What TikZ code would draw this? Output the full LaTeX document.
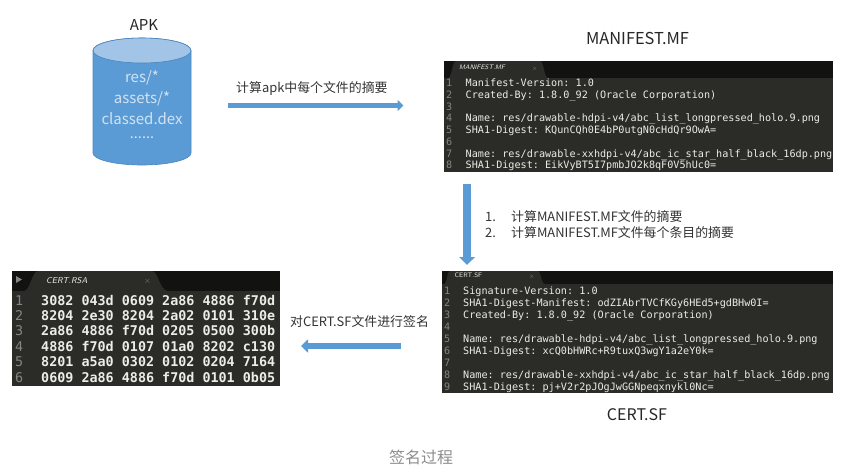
\documentclass[tikz,border=0pt]{standalone}
\usepackage{fontspec}
\setmainfont{Noto Sans CJK SC}
\setmonofont{DejaVu Sans Mono}
\usetikzlibrary{arrows.meta}
\definecolor{blueA}{HTML}{5B9BD5}
\definecolor{blueTop}{HTML}{A2C4E6}
\definecolor{blueEdge}{HTML}{4A85BB}
\definecolor{edBody}{HTML}{2B2C27}
\definecolor{edBar}{HTML}{121210}
\definecolor{edText}{HTML}{EDEDE8}
\definecolor{edNum}{HTML}{85867F}
\tikzset{
  x=1pt,y=-1pt,
  editor/.style={draw=none,fill=edBody,inner sep=0pt,anchor=north west},
  code/.style={font=\ttfamily\fontsize{10.15}{11}\selectfont,text=edText,anchor=base west,inner sep=0pt},
  rsacode/.style={font=\ttfamily\bfseries\fontsize{13.4}{14}\selectfont,text=edText,anchor=base west,inner sep=0pt},
  num/.style={font=\ttfamily\fontsize{10.15}{11}\selectfont,text=edNum,anchor=base west,inner sep=0pt},
  rsanum/.style={font=\ttfamily\fontsize{13.4}{14}\selectfont,text=edNum,anchor=base west,inner sep=0pt},
  tabtitle/.style={font=\sffamily\fontsize{6.5}{7}\selectfont,text=edText,anchor=base west,inner sep=0pt},
  caption/.style={font=\fontsize{16}{18}\selectfont,text=black!85,inner sep=0pt},
  note/.style={font=\fontsize{12.9}{14}\selectfont,text=black!80,inner sep=0pt,anchor=base west},
  inside/.style={font=\fontsize{15}{17}\selectfont,text=white!72!blueA,inner sep=0pt},
  flow/.style={draw=blueA,line width=#1},
}
\begin{document}
\begin{tikzpicture}
\useasboundingbox (0,0) rectangle (841,475);
% cylinder
\path[fill=blueA,draw=blueEdge,line width=0.6pt] (93,50.5) -- (93,153) arc[start angle=180,end angle=0,x radius=49,y radius=12] -- (191,50.5) arc[start angle=0,end angle=-180,x radius=49,y radius=12.5] -- cycle;
\path[fill=blueTop,draw=blueEdge,line width=0.6pt] (142,50.5) ellipse[x radius=49,y radius=12.5];
\node[caption,font=\fontsize{15}{17}\selectfont] (apk) at (144,25) {APK};
\node[inside] (res) at (142,78) {res/*};
\node[inside] (assets) at (142,98.5) {assets/*};
\node[inside] (dex) at (142,119) {classed.dex};
\node[inside,font=\fontsize{14.5}{15}\selectfont] (dots) at (142,138) {......};

% top arrow
\coordinate (a1s) at (228,105.5);
\coordinate (a1e) at (403.5,105.5);
\draw[flow=4.5pt,-{Triangle[length=6pt,width=11pt]}] (a1s) -- (a1e);
\node[note] (n1) at (236,92.5) {计算apk中每个文件的摘要};

% MANIFEST editor
\node[caption,font=\fontsize{16.4}{18}\selectfont] (mftitle) at (637.5,38) {MANIFEST.MF};
\node[editor,minimum width=389pt,minimum height=111pt] (mf) at (444,61) {};
\fill[edBar] (mf.north west) rectangle (833,78);
\fill[edBody] (444,78) -- (448,78) .. controls (452,78) and (452,61) .. (456,61) -- (540,61) .. controls (544,61) and (544,78) .. (548,78) -- cycle;
\node[tabtitle,font=\sffamily\itshape\fontsize{6.5}{7}\selectfont] (mftab) at (459,69) {MANIFEST.MF};
\node[tabtitle,text=edNum] (mfx) at (532,70) {×};
\foreach \i/\yy in {1/86,2/98,3/110,4/121.5,5/133.5,6/145,7/157,8/168.5}
  \node[num] (mfn\i) at (446,\yy) {\i};
\node[code] (mf1) at (465.5,86) {Manifest-Version: 1.0};
\node[code] (mf2) at (465.5,98) {Created-By: 1.8.0\_92 (Oracle Corporation)};
\node[code] (mf4) at (465.5,121.5) {Name: res/drawable-hdpi-v4/abc\_list\_longpressed\_holo.9.png};
\node[code] (mf5) at (465.5,133.5) {SHA1-Digest: KQunCQh0E4bP0utgN0cHdQr9OwA=};
\node[code] (mf7) at (465.5,157) {Name: res/drawable-xxhdpi-v4/abc\_ic\_star\_half\_black\_16dp.png};
\node[code] (mf8) at (465.5,168.5) {SHA1-Digest: EikVyBT5I7pmbJO2k8qF0V5hUc0=};

% down arrow
\coordinate (a2s) at (467,184);
\coordinate (a2e) at (467,265);
\draw[flow=7.5pt,-{Triangle[length=8pt,width=15.5pt]}] (a2s) -- (a2e);
\node[note] (l1n) at (485,221) {1.};
\node[note] (l1t) at (511,221) {计算MANIFEST.MF文件的摘要};
\node[note] (l2n) at (485,237) {2.};
\node[note] (l2t) at (511,237) {计算MANIFEST.MF文件每个条目的摘要};

% CERT.SF editor
\node[editor,minimum width=391pt,minimum height=122pt] (sf) at (442,271) {};
\fill[edBar] (sf.north west) rectangle (833,284);
\fill[edBody] (442,284) -- (444,284) .. controls (447,284) and (447,271) .. (450,271) -- (538,271) .. controls (541,271) and (541,284) .. (545,284) -- cycle;
\node[tabtitle] (sftab) at (454.5,277.5) {CERT.SF};
\node[tabtitle,text=edNum] (sfx) at (529,278) {×};
\foreach \i/\yy in {1/294.5,2/306.5,3/318.5,4/330.5,5/342.5,6/354.5,7/366.5,8/378.5,9/390}
  \node[num] (sfn\i) at (444,\yy) {\i};
\node[code] (sf1) at (463,294.5) {Signature-Version: 1.0};
\node[code] (sf2) at (463,306.5) {SHA1-Digest-Manifest: odZIAbrTVCfKGy6HEd5+gdBHw0I=};
\node[code] (sf3) at (463,318.5) {Created-By: 1.8.0\_92 (Oracle Corporation)};
\node[code] (sf5) at (463,342.5) {Name: res/drawable-hdpi-v4/abc\_list\_longpressed\_holo.9.png};
\node[code] (sf6) at (463,354.5) {SHA1-Digest: xcQ0bHWRc+R9tuxQ3wgY1a2eY0k=};
\node[code] (sf8) at (463,378.5) {Name: res/drawable-xxhdpi-v4/abc\_ic\_star\_half\_black\_16dp.png};
\node[code] (sf9) at (463,390) {SHA1-Digest: pj+V2r2pJOgJwGGNpeqxnykl0Nc=};
\node[caption] (sftitle) at (637,415) {CERT.SF};

% left arrow
\coordinate (a3s) at (400.5,346);
\coordinate (a3e) at (301,346);
\draw[flow=6.5pt,-{Triangle[length=7pt,width=13pt]}] (a3s) -- (a3e);
\node[note] (n3) at (290,326.5) {对CERT.SF文件进行签名};

% CERT.RSA editor
\node[editor,minimum width=268pt,minimum height=115pt] (rsa) at (12,271) {};
\fill[edBar] (rsa.north west) rectangle (280,291);
\fill[edBody] (12,291) -- (24,291) .. controls (30,291) and (32,271) .. (38,271) -- (152,271) .. controls (158,271) and (160,291) .. (168,291) -- cycle;
\fill[edNum] (16,276) -- (22,279.5) -- (16,283) -- cycle;
\node[tabtitle,font=\sffamily\itshape\fontsize{8.5}{9}\selectfont] (rsatab) at (46,283) {CERT.RSA};
\node[tabtitle,text=edNum,font=\sffamily\fontsize{8.5}{9}\selectfont] (rsax) at (144,283) {×};
\foreach \i/\yy in {1/305,2/320.5,3/335.5,4/351,5/366.5,6/382}
  \node[rsanum] (rsan\i) at (15,\yy) {\i};
\node[rsacode] (rsa1) at (41,305) {3082 043d 0609 2a86 4886 f70d};
\node[rsacode] (rsa2) at (41,320.5) {8204 2e30 8204 2a02 0101 310e};
\node[rsacode] (rsa3) at (41,335.5) {2a86 4886 f70d 0205 0500 300b};
\node[rsacode] (rsa4) at (41,351) {4886 f70d 0107 01a0 8202 c130};
\node[rsacode] (rsa5) at (41,366.5) {8201 a5a0 0302 0102 0204 7164};
\node[rsacode] (rsa6) at (41,382) {0609 2a86 4886 f70d 0101 0b05};

\node[font=\fontsize{16}{18}\selectfont,text=black!45,inner sep=0pt] (cap) at (421,457) {签名过程};
\end{tikzpicture}
\end{document}
